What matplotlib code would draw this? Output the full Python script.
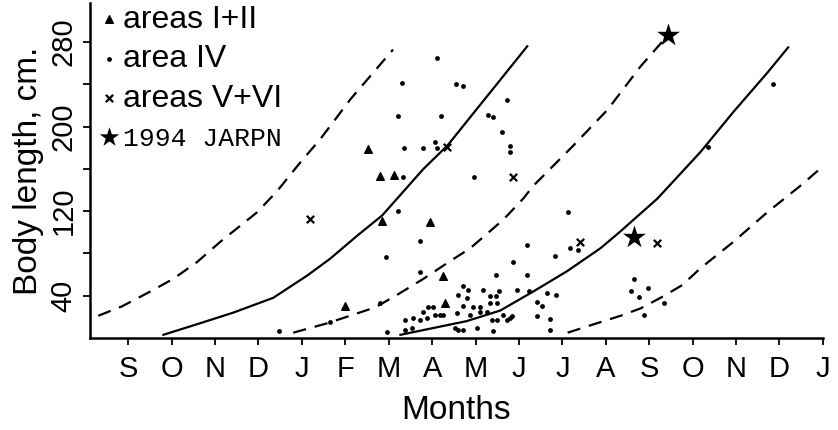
import matplotlib
matplotlib.use("Agg")
import matplotlib.pyplot as plt

plt.rcParams['font.family'] = ['Liberation Sans', 'DejaVu Sans']

# month axis: 0 = September of the first year, 16 = January two years later
month_labels = ["S", "O", "N", "D", "J", "F", "M", "A", "M", "J", "J", "A", "S", "O", "N", "D", "J"]
month_pos = list(range(len(month_labels)))

# growth curves (month, body length cm)
dash1_x = [-0.69, -0.14, 0.51, 1.04, 1.59, 2.12, 2.97, 3.43, 3.96, 4.42, 5.12, 6.10]
dash1_y = [21, 30, 44, 56, 72, 91, 119, 139, 166, 188, 226, 273]
solid1_x = [0.81, 1.66, 2.42, 3.34, 4.12, 4.65, 5.28, 5.85, 6.80, 7.35, 8.27, 9.19]
solid1_y = [3, 14, 24, 38, 59, 75, 97, 116, 160, 182, 229, 276]
dash2_x = [3.80, 4.59, 5.18, 5.69, 6.20, 6.80, 7.35, 7.88, 8.64, 9.10, 9.33, 10.25, 11.04, 11.80, 12.44]
dash2_y = [5, 14, 22, 29, 41, 56, 71, 85, 112, 132, 144, 182, 216, 257, 287]
solid2_x = [6.27, 7.80, 8.57, 9.33, 10.10, 10.88, 11.34, 12.19, 13.18, 13.94, 14.72, 15.20]
solid2_y = [3, 16, 26, 44, 63, 85, 101, 132, 176, 214, 251, 275]
dash3_x = [10.12, 10.80, 11.34, 11.80, 12.26, 12.76, 13.18, 13.94, 14.72, 15.48, 16.10]
dash3_y = [5, 14, 21, 28, 38, 50, 66, 91, 119, 144, 166]

# areas I+II (triangles)
tri_x = [5.53, 5.81, 6.13, 5.85, 6.94, 7.26, 7.30, 5.00]
tri_y = [179, 153, 154, 111, 110, 59, 33, 30]

# area IV (dots)
dot_x = [7.12, 6.31, 7.56, 7.70, 8.73, 6.22, 7.21, 8.29, 8.41, 8.62, 6.36, 6.80, 7.07, 7.12,
         8.80, 8.80, 6.34, 7.97, 6.22, 6.71, 5.94, 9.19, 10.12, 10.18, 10.37, 9.84, 8.87, 8.48,
         9.19, 6.73, 4.65, 5.97, 3.48, 8.96, 9.22, 9.65, 9.86, 9.42, 9.54, 9.42, 9.72, 9.72,
         8.64, 8.85, 8.73, 11.57, 11.64, 11.77, 11.98, 12.33, 11.87, 13.36, 14.84, 5.81,
         7.72, 7.83, 7.60, 7.81, 8.18, 8.53, 8.34, 8.46, 8.34, 8.50, 6.91, 7.03, 7.72, 7.95,
         8.11, 6.80, 7.19, 7.26, 7.58, 8.11, 8.27, 6.38, 6.57, 6.73, 6.89, 7.07, 7.88, 8.39,
         8.50, 8.80, 6.54, 7.53, 7.60, 7.72, 8.04, 8.41, 6.38]
dot_y = [265, 241, 240, 238, 225, 210, 210, 211, 209, 195, 180, 180, 185, 180,
         182, 176, 152, 152, 120, 92, 77, 88, 119, 85, 83, 78, 72, 60,
         60, 62, 15, 6, 7, 45, 44, 43, 41, 34, 30, 21, 18, 8,
         22, 21, 17, 44, 56, 39, 47, 33, 22, 181, 240, 33,
         49, 45, 41, 38, 45, 44, 40, 40, 33, 33, 29, 29, 30, 29,
         29, 25, 22, 22, 24, 25, 25, 17, 19, 17, 19, 22, 22, 17,
         17, 19, 9, 9, 8, 8, 9, 7, 8]

# areas V+VI (crosses)
cross_x = [4.19, 7.35, 8.87, 10.41, 12.19]
cross_y = [113, 181, 152, 91, 90]

# 1994 JARPN (stars)
star_x = [11.64, 12.44]
star_y = [96, 287]

fig = plt.figure(figsize=(8.38, 4.30), dpi=100)
ax = fig.add_axes([0.1074, 0.214, 0.8746, 0.779])

dash_style = dict(color='black', lw=1.6, linestyle=(0, (6, 4)))
ax.plot(dash1_x, dash1_y, **dash_style)
ax.plot(dash2_x, dash2_y, **dash_style)
ax.plot(dash3_x, dash3_y, **dash_style)
ax.plot(solid1_x, solid1_y, color='black', lw=1.6)
ax.plot(solid2_x, solid2_y, color='black', lw=1.6)

h_tri = ax.scatter(tri_x, tri_y, marker='^', s=30, color='black', label='areas I+II')
h_dot = ax.scatter(dot_x, dot_y, marker='o', s=12, color='black', linewidths=0, label='area IV')
h_cross = ax.scatter(cross_x, cross_y, marker='x', s=28, color='black', linewidths=1.6, label='areas V+VI')
h_star = ax.scatter(star_x, star_y, marker='*', s=300, color='black', linewidths=0, label='1994 JARPN')

ax.set_xlim(-0.88, 16.0)
ax.set_ylim(0, 317)
ax.set_xticks(month_pos)
ax.set_xticklabels(month_labels, fontsize=21)
ax.set_yticks([40, 120, 200, 280])
ax.set_yticklabels(['40', '120', '200', '280'], rotation=90, va='center', fontsize=21)
ax.set_yticks([80, 160, 240], minor=True)
ax.tick_params(axis='both', which='both', direction='out', length=5, width=1.3)
ax.tick_params(axis='x', pad=7)
ax.tick_params(axis='y', pad=4)

for side in ['top', 'right']:
    ax.spines[side].set_visible(False)
for side in ['left', 'bottom']:
    ax.spines[side].set_linewidth(1.8)

ax.set_xlabel('Months', fontsize=24, labelpad=9)
ax.set_ylabel('Body length, cm.', fontsize=24, labelpad=4)

leg = ax.legend(handles=[h_tri, h_dot, h_cross, h_star], loc='upper left',
                bbox_to_anchor=(0.015, 0.995), frameon=False, fontsize=23,
                handlelength=0.5, handletextpad=0.2, labelspacing=0.3,
                borderaxespad=0.0, borderpad=0.0)
leg.legend_handles[3].set_sizes([220])
leg.get_texts()[3].set_fontfamily('Liberation Mono')
leg.get_texts()[3].set_fontsize(19)

fig.savefig('out.png', dpi=100)
